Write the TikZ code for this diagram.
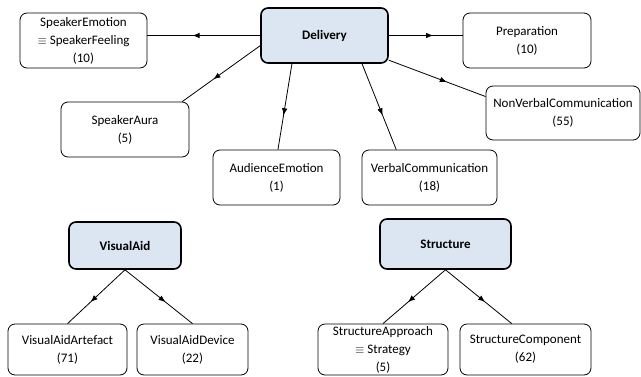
\documentclass[tikz,border=0pt]{standalone}
\usepackage{fontspec}
\setmainfont{Carlito}
\usepackage{tikz}
\usetikzlibrary{decorations.markings,arrows.meta}
\usepackage{xcolor}
\definecolor{topicblue}{HTML}{DCE6F2}

\tikzset{
leaf/.style={draw, rounded corners=7pt, align=center, font=\fontsize{13}{18}\selectfont, inner sep=0pt},
topic/.style={leaf, fill=topicblue, line width=1.6pt, font=\fontsize{13}{18}\selectfont\bfseries},
midarr/.style={postaction={decorate}, decoration={markings, mark=at position 0.6 with {\arrow{Latex[length=7pt,width=5.5pt]}}}}
}

\begin{document}
\begin{tikzpicture}[x=1pt, y=-1pt, line width=0.8pt]
\useasboundingbox (0,0) rectangle (641,376);

%delivery and its leaves
\node[topic, minimum width=127pt, minimum height=55pt] (delivery) at (324.5,35.5) {Delivery};
\node[leaf, minimum width=127pt, minimum height=55pt] (spkemo) at (83.5,40.5) {SpeakerEmotion\\$\equiv$ SpeakerFeeling\\(10)};
\node[leaf, minimum width=128pt, minimum height=55pt] (prep) at (527,40.5) {Preparation\\(10)};
\node[leaf, minimum width=128pt, minimum height=55pt] (spkaura) at (125,129.5) {SpeakerAura\\(5)};
\node[leaf, minimum width=154pt, minimum height=54pt] (nonverbal) at (563,113) {NonVerbalCommunication\\(55)};
\node[leaf, minimum width=127pt, minimum height=55pt] (audemo) at (276.5,177.5) {AudienceEmotion\\(1)};
\node[leaf, minimum width=135pt, minimum height=55pt] (verbal) at (429.5,177.5) {VerbalCommunication\\(18)};

%visual aid tree
\node[topic, minimum width=112pt, minimum height=47pt] (visaid) at (125,245.5) {VisualAid};
\node[leaf, minimum width=119pt, minimum height=51pt] (visart) at (67.5,349.5) {VisualAidArtefact\\(71)};
\node[leaf, minimum width=111pt, minimum height=51pt] (visdev) at (192.5,349.5) {VisualAidDevice\\(22)};

%structure tree
\node[topic, minimum width=131pt, minimum height=50pt] (struct) at (445.5,244) {Structure};
\node[leaf, minimum width=130pt, minimum height=51pt] (strapp) at (383,349.5) {StructureApproach\\$\equiv$ Strategy\\(5)};
\node[leaf, minimum width=131pt, minimum height=51pt] (strcomp) at (525.5,349.5) {StructureComponent\\(62)};

%delivery arrows
\draw [midarr] (delivery.west) -- (delivery.west -| spkemo.east);
\draw [midarr] (delivery.east) -- (delivery.east -| prep.west);
\draw [midarr] (delivery.189.4) -- (spkaura.26.6);
\draw [midarr] (delivery.221) -- (audemo.87);
\draw [midarr] (delivery.323) -- (verbal.140.6);
\draw [midarr] (delivery.339) -- (nonverbal.168.3);

%tree arrows
\draw [midarr] (visaid.south) -- (visart.north);
\draw [midarr] (visaid.south) -- (visdev.north);
\draw [midarr] (struct.south) -- (strapp.north);
\draw [midarr] (struct.south) -- (strcomp.118);

\end{tikzpicture}
\end{document}
